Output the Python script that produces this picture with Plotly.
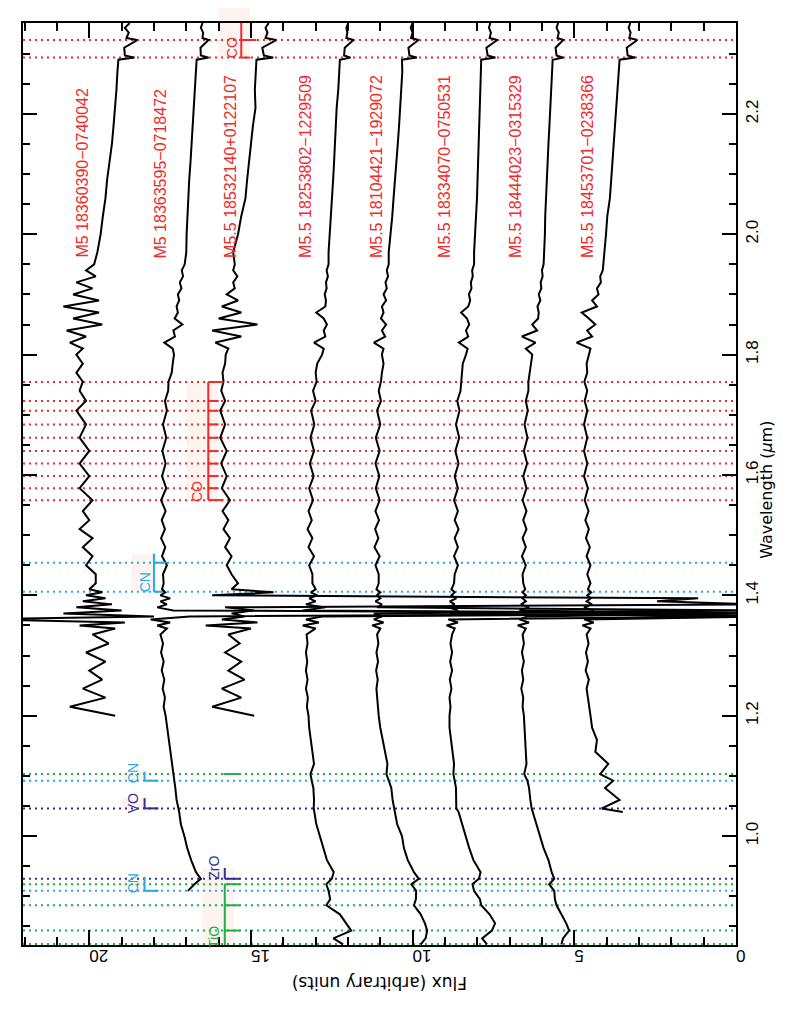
import plotly.graph_objects as go

# wavelength grid (micron) shared by all spectra
wave = [
    0.82, 0.83, 0.843, 0.855, 0.87, 0.885, 0.895, 0.909, 0.92, 0.929,
    0.94, 0.96, 0.98, 1.00, 1.02, 1.04, 1.046, 1.06, 1.08, 1.092,
    1.103, 1.12, 1.14, 1.16, 1.18, 1.20, 1.215, 1.23, 1.245, 1.26,
    1.275, 1.29, 1.305, 1.32, 1.335, 1.345, 1.35, 1.355, 1.36, 1.365,
    1.37, 1.375, 1.38, 1.385, 1.39, 1.395, 1.40, 1.405, 1.41, 1.42,
    1.435, 1.45, 1.465, 1.48, 1.495, 1.51, 1.525, 1.54, 1.558, 1.578,
    1.598, 1.619, 1.64, 1.662, 1.684, 1.707, 1.723, 1.74, 1.755, 1.77,
    1.785, 1.80, 1.81, 1.82, 1.83, 1.84, 1.85, 1.86, 1.87, 1.88,
    1.89, 1.90, 1.91, 1.92, 1.93, 1.94, 1.95, 1.97, 2.00, 2.03,
    2.06, 2.09, 2.12, 2.15, 2.18, 2.21, 2.24, 2.27, 2.29, 2.2935,
    2.297, 2.31, 2.3227, 2.326, 2.335, 2.343, 2.351,
]

N = None
s1_flux = [
    N, N, N, N, N, N, N, N, N, N,
    N, N, N, N, N, N, N, N, N, N,
    N, N, N, N, N, 19.2, 20.6, 19.5, 20.2, 19.6,
    20.0, 19.5, 20.1, 19.4, 19.9, 19.2, 20.3, 18.9, 23.5, 18.0,
    20.8, 19.0, 20.4, 19.3, 20.2, 19.5, 20.1, 19.6, 20.0, 19.8,
    19.8, 20.1, 19.9, 20.2, 19.9, 20.3, 20.0, 20.2, 19.9, 20.3,
    20.0, 20.3, 20.0, 20.3, 20.1, 20.4, 20.1, 20.3, 20.2, 20.4,
    20.2, 20.4, 20.2, 20.6, 20.1, 20.7, 19.6, 20.5, 19.7, 20.8,
    19.7, 20.5, 19.9, 20.4, 19.8, 20.1, 19.85, 19.75, 19.65, 19.58,
    19.5, 19.45, 19.37, 19.3, 19.25, 19.2, 19.16, 19.13, 19.1, 18.6,
    18.9, 18.92, 18.52, 18.85, 18.78, 18.9, 18.75,
]
s2_flux = [
    N, N, N, N, N, N, N, 16.95, 16.75, 16.55,
    16.7, 16.85, 16.97, 17.06, 17.17, 17.22, 17.24, 17.3, 17.34, 17.37,
    17.4, 17.44, 17.48, 17.55, 17.6, 17.64, 17.7, 17.66, 17.73, 17.68,
    17.76, 17.7, 17.78, 17.72, 17.8, 17.6, 17.9, 17.5, 18.1, 16.9,
    -0.5, 17.4, 17.9, 17.6, 17.8, 17.5, 17.8, 17.65, 17.75, 17.7,
    17.72, 17.6, 17.75, 17.65, 17.78, 17.66, 17.76, 17.64, 17.78, 17.62,
    17.75, 17.64, 17.74, 17.62, 17.72, 17.6, 17.66, 17.56, 17.55, 17.45,
    17.42, 17.38, 17.42, 17.68, 17.35, 17.4, 17.12, 17.36, 17.26, 17.3,
    17.22, 17.26, 17.15, 17.2, 17.1, 17.14, 17.05, 17.0, 16.99, 16.97,
    16.95, 16.91, 16.87, 16.84, 16.81, 16.78, 16.73, 16.7, 16.68, 16.31,
    16.55, 16.56, 16.31, 16.5, 16.48, 16.55, 16.5,
]
s3_flux = [
    N, N, N, N, N, N, N, N, N, N,
    N, N, N, N, N, N, N, N, N, N,
    N, N, N, N, N, 14.9, 16.2, 15.3, 15.9, 15.2,
    15.7, 15.3, 15.8, 15.35, 15.7, 15.0, 16.4, 14.8, 15.9, 15.2,
    15.6, 14.9, 15.8, -0.5, 2.44, 1.17, 16.2, 14.3, 15.6, 15.4,
    15.6, 15.75, 15.6, 15.8, 15.65, 15.85, 15.7, 15.88, 15.65, 15.9,
    15.75, 15.92, 15.75, 15.95, 15.8, 15.95, 15.8, 15.92, 15.85, 15.88,
    15.8, 15.78, 15.7, 16.1, 15.3, 16.2, 14.8, 16.0, 15.3, 15.9,
    15.4, 15.75, 15.5, 15.55, 15.42, 15.55, 15.5, 15.55, 15.4, 15.3,
    15.17, 15.12, 15.05, 15.0, 14.94, 14.86, 14.88, 14.84, 14.83, 14.31,
    14.6, 14.65, 14.22, 14.55, 14.49, 14.55, 14.45,
]
s4_flux = [
    12.15, 12.45, 11.9, 12.05, 12.25, 12.67, 12.55, 12.6, 12.67, 12.5,
    12.44, 12.65, 12.76, 12.86, 12.98, 13.04, 13.06, 13.05, 13.07, 13.12,
    13.16, 13.05, 13.1, 13.14, 13.2, 13.22, 13.27, 13.24, 13.3, 13.25,
    13.3, 13.26, 13.3, 13.25, 13.28, 13.0, 13.4, 12.9, 13.3, 12.8,
    -1.0, 13.4, 12.7, 13.3, 13.0, 13.2, 12.95, 13.15, 13.0, 13.1,
    13.1, 13.2, 13.05, 13.22, 13.1, 13.25, 13.12, 13.22, 13.08, 13.2,
    13.06, 13.18, 13.05, 13.16, 13.04, 13.14, 13.0, 13.08, 12.97, 13.0,
    12.95, 12.8, 12.75, 13.05, 12.7, 12.75, 12.65, 12.75, 12.98, 12.7,
    12.68, 12.72, 12.66, 12.68, 12.62, 12.66, 12.6, 12.6, 12.56, 12.52,
    12.49, 12.46, 12.43, 12.41, 12.38, 12.35, 12.3, 12.27, 12.25, 11.92,
    12.12, 12.1, 11.83, 12.05, 12.02, 12.05, 11.99,
]
s5_flux = [
    9.75, 9.6, 9.55, 9.62, 9.75, 9.96, 9.9, 9.89, 10.04, 9.81,
    9.96, 10.15, 10.27, 10.33, 10.48, 10.55, 10.58, 10.62, 10.66, 10.74,
    10.81, 10.78, 10.86, 10.92, 11.0, 11.05, 11.08, 11.1, 11.12, 11.08,
    11.13, 11.07, 11.12, 11.06, 11.1, 11.0, 11.25, 10.9, 11.2, 10.95,
    11.2, -1.0, 11.1, 10.95, 11.15, 11.0, 11.1, 11.0, 11.12, 11.05,
    11.05, 11.15, 11.02, 11.18, 11.06, 11.16, 11.04, 11.15, 11.02, 11.14,
    11.03, 11.15, 11.02, 11.14, 11.0, 11.1, 10.98, 11.05, 10.98, 10.95,
    10.9, 10.95, 10.9, 11.2, 10.85, 10.95, 10.82, 10.98, 10.9, 10.95,
    10.82, 10.9, 10.8, 10.84, 10.76, 10.8, 10.74, 10.74, 10.68, 10.63,
    10.59, 10.54, 10.5, 10.46, 10.42, 10.38, 10.34, 10.32, 10.33, 9.87,
    10.1, 10.13, 9.82, 10.05, 10.0, 10.06, 10.0,
]
s6_flux = [
    7.7, 7.85, 7.55, 7.45, 7.62, 7.88, 7.92, 8.1, 8.15, 7.95,
    7.9, 8.12, 8.25, 8.36, 8.48, 8.58, 8.65, 8.66, 8.66, 8.7,
    8.74, 8.72, 8.76, 8.8, 8.86, 8.86, 8.83, 8.86, 8.8, 8.85,
    8.78, 8.84, 8.78, 8.83, 8.78, 8.7, 8.95, 8.6, 8.9, -0.8,
    8.85, 8.6, 8.9, 8.7, 8.85, 8.65, 8.8, 8.7, 8.8, 8.72,
    8.7, 8.6, 8.72, 8.6, 8.7, 8.58, 8.7, 8.6, 8.72, 8.6,
    8.7, 8.58, 8.68, 8.56, 8.66, 8.55, 8.62, 8.52, 8.5, 8.48,
    8.45, 8.35, 8.3, 8.57, 8.28, 8.35, 8.25, 8.32, 8.5, 8.28,
    8.22, 8.26, 8.18, 8.2, 8.14, 8.16, 8.1, 8.1, 8.06, 8.04,
    8.01, 7.99, 7.98, 7.97, 7.95, 7.93, 7.9, 7.89, 7.88, 7.44,
    7.68, 7.72, 7.38, 7.62, 7.58, 7.64, 7.6,
]
s7_flux = [
    5.4, 5.35, 5.16, 5.25, 5.4, 5.55, 5.6, 5.62, 5.78, 5.62,
    5.7, 5.8, 5.95, 6.06, 6.17, 6.27, 6.32, 6.36, 6.4, 6.45,
    6.55, 6.48, 6.5, 6.53, 6.55, 6.56, 6.6, 6.58, 6.64, 6.58,
    6.62, 6.56, 6.62, 6.56, 6.6, 6.5, 6.75, 6.4, 6.7, 6.45,
    0.2, 6.7, 6.4, 6.65, 6.5, 6.6, 6.5, 6.6, 6.52, 6.58,
    6.6, 6.5, 6.62, 6.5, 6.6, 6.48, 6.58, 6.48, 6.6, 6.48,
    6.58, 6.46, 6.56, 6.45, 6.54, 6.44, 6.5, 6.42, 6.42, 6.38,
    6.36, 6.3, 6.5, 6.2, 6.62, 6.15, 6.3, 6.12, 6.1, 6.14,
    6.05, 6.1, 6.02, 6.04, 5.98, 6.0, 5.95, 5.93, 5.91, 5.9,
    5.88, 5.86, 5.83, 5.8, 5.77, 5.74, 5.7, 5.68, 5.67, 5.34,
    5.55, 5.58, 5.34, 5.52, 5.48, 5.55, 5.5,
]
s8_flux = [
    N, N, N, N, N, N, N, N, N, N,
    N, N, N, N, N, 3.5, 4.15, 3.6, 4.05, 3.8,
    4.2, 3.95, 4.35, 4.3, 4.45, 4.5, 4.55, 4.58, 4.62, 4.55,
    4.65, 4.58, 4.64, 4.56, 4.62, 4.5, 4.75, 4.4, 4.7, -1.0,
    4.65, 4.4, 4.7, 4.45, 4.62, 4.5, 4.6, 4.48, 4.58, 4.5,
    4.6, 4.5, 4.62, 4.52, 4.64, 4.55, 4.66, 4.56, 4.68, 4.58,
    4.7, 4.6, 4.7, 4.6, 4.7, 4.6, 4.68, 4.6, 4.69, 4.6,
    4.62, 4.55, 4.5, 4.93, 4.45, 4.6, 4.35, 4.55, 4.77, 4.3,
    4.45, 4.25, 4.3, 4.18, 4.2, 4.12, 4.1, 4.07, 4.02, 3.98,
    3.9, 3.86, 3.82, 3.78, 3.74, 3.7, 3.66, 3.62, 3.6, 3.12,
    3.35, 3.38, 3.05, 3.3, 3.26, 3.32, 3.27,
]

star_names = [
    "M5 18360390\u22120740042",
    "M5 18363595\u22120718472",
    "M5.5 18532140+0122107",
    "M5.5 18253802\u22121229509",
    "M5.5 18104421\u22121929072",
    "M5.5 18334070\u22120750531",
    "M5.5 18444023\u22120315329",
    "M5.5 18453701\u22120238366",
]

# feature wavelengths (micron)
co_k_lines = [2.2935, 2.3227]
co_h_lines = [1.5582, 1.5780, 1.5982, 1.6189, 1.6397, 1.6618, 1.6840, 1.7067, 1.7230, 1.7545]
cn_lines = [0.909, 1.092, 1.406, 1.4543]
vo_lines = [1.046]
zro_lines = [0.929]
tio_lines = [0.8205, 0.843, 0.885, 0.92, 1.103]

RED = "#ee2a2a"
GREEN = "#1fae4b"
CYAN = "#27aae1"
NAVY = "#2e3192"
PINK = "#fdf4f0"
FONT = "Liberation Sans, Arial, sans-serif"
TITLE_FONT = "DejaVu Sans, sans-serif"

XMAX = 22.05
YMIN, YMAX = 0.819, 2.351

fig = go.Figure()

spectra = [s1_flux, s2_flux, s3_flux, s4_flux, s5_flux, s6_flux, s7_flux, s8_flux]
for flux in spectra:
    assert len(flux) == len(wave)
    fig.add_trace(go.Scatter(x=flux, y=wave, mode="lines",
                             line=dict(color="black", width=2),
                             hoverinfo="skip", showlegend=False))


def px(f):
    return (XMAX - f) / XMAX


def py(w):
    return (w - YMIN) / (YMAX - YMIN)


def box(f0, f1, w0, w1, top=None):
    fig.add_shape(type="rect", xref="paper", yref="paper",
                  x0=px(f0), x1=px(f1), y0=py(w0), y1=top if top else py(w1),
                  fillcolor=PINK, line=dict(width=0), layer="below")


def seg(f0, w0, f1, w1, color):
    fig.add_shape(type="line", xref="x", yref="y", x0=f0, x1=f1, y0=w0, y1=w1,
                  line=dict(color=color, width=2))


def label(text, f, w, color, size=14):
    fig.add_annotation(x=f, y=w, xref="x", yref="y", text=text, showarrow=False,
                       textangle=-90, font=dict(color=color, size=size, family=FONT))


# faint label backgrounds
box(16.0, 15.02, 2.2935, None, top=1.026)
box(16.99, 16.05, 1.5582, 1.7545)
box(18.7, 18.0, 1.406, 1.469)
box(19.0, 18.3, 1.046, 1.063)
box(18.95, 18.3, 1.092, 1.107)
box(18.95, 18.3, 0.909, 0.932)
box(16.51, 15.53, YMIN, 0.947)

# dotted feature lines across the whole plot
for lines, color in [(co_k_lines, RED), (co_h_lines, RED), (cn_lines, CYAN),
                     (vo_lines, NAVY), (zro_lines, NAVY), (tio_lines, GREEN)]:
    for w in lines:
        fig.add_shape(type="line", xref="paper", yref="y", x0=0, x1=1, y0=w, y1=w,
                      line=dict(color=color, width=2, dash="2px,4px"), layer="below")

# brackets
seg(15.3, co_k_lines[0], 15.3, YMAX, RED)
seg(15.3, co_k_lines[0], 15.02, co_k_lines[0], RED)
seg(15.3, co_k_lines[1], 14.83, co_k_lines[1], RED)
label("CO", 15.6, 2.31, RED)

seg(16.32, co_h_lines[0], 16.32, co_h_lines[-1], RED)
for i, w in enumerate(co_h_lines):
    end = 15.85 if i in (0, len(co_h_lines) - 1) else 16.0
    seg(16.32, w, end, w, RED)
label("CO", 16.66, 1.572, RED)

seg(18.0, 1.406, 18.0, 1.469, CYAN)
seg(18.0, 1.4543, 17.63, 1.4543, CYAN)
seg(18.0, 1.406, 17.77, 1.406, CYAN)
label("CN", 18.29, 1.421, CYAN)

seg(18.29, 1.092, 18.29, 1.107, CYAN)
seg(18.29, 1.092, 17.86, 1.092, CYAN)
label("CN", 18.64, 1.105, CYAN)

seg(18.29, 1.046, 18.29, 1.063, NAVY)
seg(18.29, 1.046, 17.86, 1.046, NAVY)
label("VO", 18.64, 1.055, NAVY)

seg(18.29, 0.909, 18.29, 0.932, CYAN)
seg(18.29, 0.909, 17.86, 0.909, CYAN)
label("CN", 18.64, 0.922, CYAN)

seg(15.81, 0.929, 15.81, 0.947, NAVY)
seg(15.81, 0.929, 15.33, 0.929, NAVY)
label("ZrO", 16.15, 0.947, NAVY)

seg(15.81, YMIN, 15.81, 0.92, GREEN)
for w in [0.92, 0.885, 0.843]:
    seg(15.81, w, 15.33, w, GREEN)
seg(15.85, 1.103, 15.33, 1.103, GREEN)
label("TiO", 16.15, 0.832, GREEN)

# star labels
name_flux = [20.21, 17.8, 15.64, 13.32, 11.12, 9.02, 6.82, 4.6]
for name, f in zip(star_names, name_flux):
    fig.add_annotation(x=f, y=1.957, xref="x", yref="y", text=name, showarrow=False,
                       textangle=-90, yanchor="bottom",
                       font=dict(color=RED, size=16, family=FONT))

# axis titles (rotated like the original page)
fig.add_annotation(x=0.5, y=-0.054, xref="paper", yref="paper",
                   text="Flux (arbitrary units)", showarrow=False, textangle=180,
                   font=dict(size=17, family=TITLE_FONT, color="black"))
fig.add_annotation(x=1.058, y=py(1.575), xref="paper", yref="paper",
                   text="Wavelength (<i>\u03bc</i>m)", showarrow=False, textangle=-90,
                   font=dict(size=16, family=TITLE_FONT, color="black"))

axis_common = dict(showline=True, linecolor="black", linewidth=2, mirror="allticks",
                   ticks="inside", tickcolor="black", tickwidth=1.5,
                   showgrid=False, zeroline=False,
                   tickfont=dict(size=17, family=FONT, color="black"))

fig.update_xaxes(range=[XMAX, 0], tick0=0, dtick=5, ticklen=15, tickangle=180,
                 minor=dict(dtick=1, ticklen=8, ticks="inside", tickcolor="black", tickwidth=1.5),
                 **axis_common)
fig.update_yaxes(range=[YMIN, YMAX], side="right", tick0=0, dtick=0.2, tickformat=".1f",
                 ticklen=14, tickangle=-90,
                 minor=dict(dtick=0.05, ticklen=7, ticks="inside", tickcolor="black", tickwidth=1.5),
                 **axis_common)

# the page adds an 8px body margin, so the left/top margins are reduced by that amount
fig.update_layout(width=786, height=1024,
                  margin=dict(l=15, r=58, t=15, b=87),
                  plot_bgcolor="white", paper_bgcolor="white",
                  showlegend=False)

fig.write_html("out.html")
